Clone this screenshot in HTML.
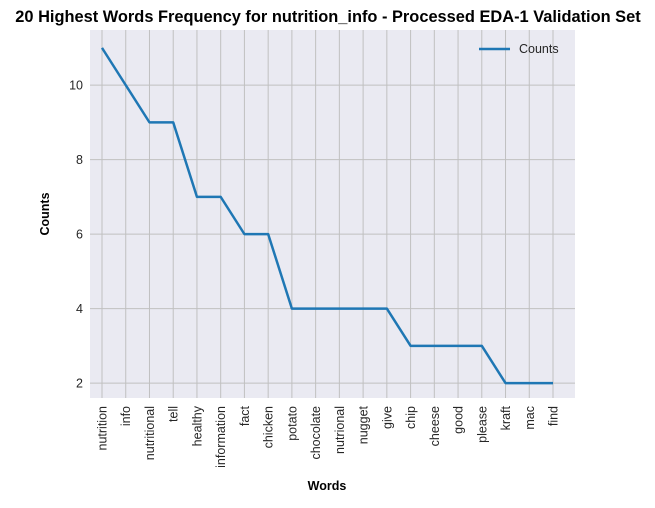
<!DOCTYPE html>
<html><head><meta charset="utf-8"><style>
body{margin:0;background:#fff;font-family:"Liberation Sans",sans-serif;}
</style></head><body>
<svg id="c" width="655" height="503" xmlns="http://www.w3.org/2000/svg" font-family="Liberation Sans, sans-serif"></svg>
<script>
const categories=["nutrition","info","nutritional","tell","healthy","information","fact","chicken","potato","chocolate","nutrional","nugget","give","chip","cheese","good","please","kraft","mac","find"];
const counts=[11,10,9,9,7,7,6,6,4,4,4,4,4,3,3,3,3,2,2,2];
const yTicks=[2,4,6,8,10];
const L=90,R=575,T=30,B=398;
const yMin=1.6,yMax=11.48;
const x=i=>102+i*(553-102)/(categories.length-1);
const y=v=>B-(v-yMin)/(yMax-yMin)*(B-T);
const svg=document.getElementById('c');
const NS="http://www.w3.org/2000/svg";
function mk(tag,attrs,parent){const e=document.createElementNS(NS,tag);for(const k in attrs)e.setAttribute(k,attrs[k]);(parent||svg).appendChild(e);return e;}
let bg=mk('rect',{x:L,y:T,width:R-L,height:B-T,fill:'#eaeaf2'});


categories.forEach((c,i)=>{
  let g=mk('line',{x1:x(i),x2:x(i),y1:T,y2:B,stroke:'#c0c0c0','stroke-width':1});
  
  
  let t=mk('text',{x:0,y:0,'font-size':12.5,fill:'#262626','text-anchor':'end',transform:`translate(${x(i)+4.5},${B+8}) rotate(-90)`});
  t.textContent=c;
  
  
});
yTicks.forEach(v=>{
  let g=mk('line',{x1:L,x2:R,y1:y(v),y2:y(v),stroke:'#c0c0c0','stroke-width':1});
  
  
  let t=mk('text',{x:L-7,y:y(v)+4.5,'font-size':12.5,fill:'#262626','text-anchor':'end'});
  t.textContent=v;
  
  
});
let p=mk('polyline',{points:counts.map((v,i)=>x(i)+','+y(v)).join(' '),fill:'none',stroke:'#1f77b4','stroke-width':2.5,'stroke-linejoin':'round'});


let ti=mk('text',{x:328,y:22,'font-size':16.4,'font-weight':'bold','text-anchor':'middle',fill:'#000'});
ti.textContent='20 Highest Words Frequency for nutrition_info - Processed EDA-1 Validation Set';


let xt=mk('text',{x:327,y:490,'font-size':12.5,'font-weight':'bold','text-anchor':'middle'});
xt.textContent='Words';


let yt=mk('text',{x:0,y:0,'font-size':12.5,'font-weight':'bold','text-anchor':'middle',transform:`translate(49,${(T+B)/2}) rotate(-90)`});
yt.textContent='Counts';


let lg=mk('g',{});


mk('line',{x1:479,x2:510,y1:49,y2:49,stroke:'#1f77b4','stroke-width':2.5},lg);
let lt=mk('text',{x:519,y:53,'font-size':12.5,fill:'#262626'},lg);
lt.textContent='Counts';


</script>
</body></html>
